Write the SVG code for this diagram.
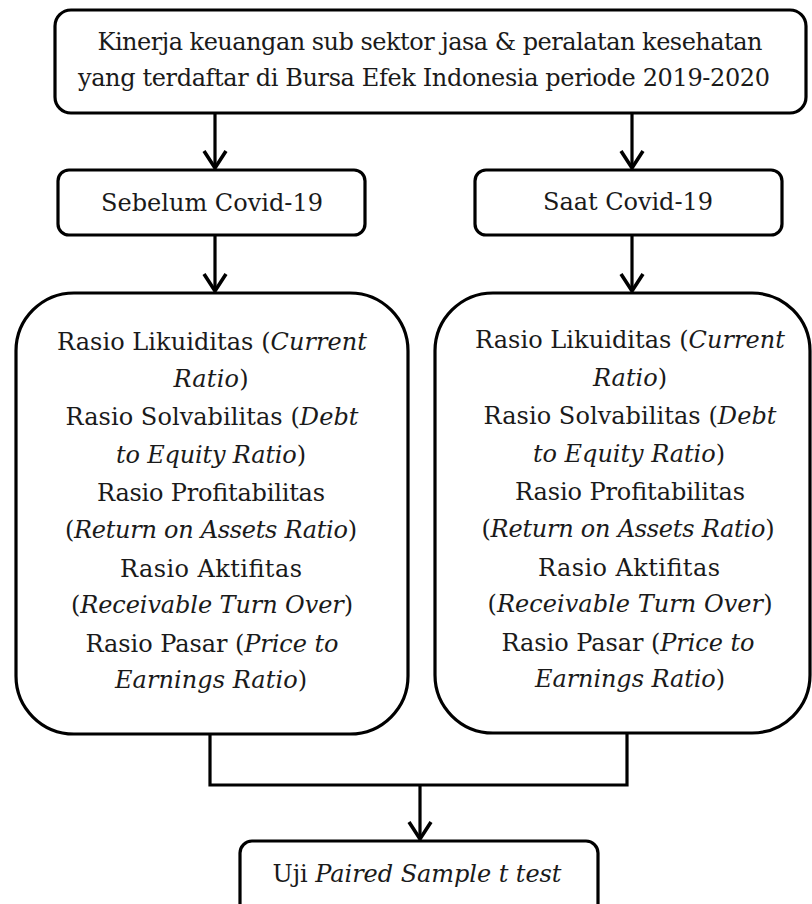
<svg xmlns="http://www.w3.org/2000/svg" width="812" height="904" viewBox="0 0 812 904">
<style>
.box{fill:#fff;stroke:#000;stroke-width:3.2}
.ln{fill:none;stroke:#000;stroke-width:3.2}
.t{font-family:'DejaVu Serif','Liberation Serif',serif;font-size:24px;fill:#1a1a1a;text-anchor:middle}
.i{font-style:italic}
</style>
<defs>
<marker id="arr" markerUnits="userSpaceOnUse" markerWidth="30" markerHeight="30" refX="0" refY="0" orient="auto" overflow="visible">
<path d="M-17,-11 L0,0 L-17,11" fill="none" stroke="#000" stroke-width="3.6" stroke-linejoin="miter"/>
</marker>
</defs>
<rect width="812" height="904" fill="#fff"/>
<g id="connectors">
<line class="ln" x1="215" y1="113" x2="215" y2="168" marker-end="url(#arr)"/>
<line class="ln" x1="632" y1="113" x2="632" y2="168" marker-end="url(#arr)"/>
<line class="ln" x1="215" y1="235" x2="215" y2="291" marker-end="url(#arr)"/>
<line class="ln" x1="632" y1="235" x2="632" y2="291" marker-end="url(#arr)"/>
<path class="ln" d="M210,734 V785 H627 V733"/>
<line class="ln" x1="420" y1="785" x2="420" y2="839" marker-end="url(#arr)"/>
</g>
<g id="node-top">
<rect class="box" x="55" y="10" width="751" height="103" rx="16"/>
<text class="t" x="430" y="50" textLength="665" lengthAdjust="spacing">Kinerja keuangan sub sektor jasa &amp; peralatan kesehatan</text>
<text class="t" x="424" y="86" textLength="692" lengthAdjust="spacing">yang terdaftar di Bursa Efek Indonesia periode 2019-2020</text>
</g>
<g id="node-sebelum">
<rect class="box" x="58" y="170" width="307" height="65" rx="11"/>
<text class="t" x="212" y="211" textLength="222" lengthAdjust="spacing">Sebelum Covid-19</text>
</g>
<g id="node-saat">
<rect class="box" x="475" y="170" width="307" height="65" rx="11"/>
<text class="t" x="628" y="210" textLength="170" lengthAdjust="spacing">Saat Covid-19</text>
</g>
<g id="node-rasio-sebelum">
<rect class="box" x="16" y="293" width="392" height="441" rx="58"/>
<text class="t" x="212" y="350" textLength="310" lengthAdjust="spacing">Rasio Likuiditas (<tspan class="i">Current</tspan></text>
<text class="t" x="211" y="387" textLength="75" lengthAdjust="spacing"><tspan class="i">Ratio</tspan>)</text>
<text class="t" x="212" y="425" textLength="293" lengthAdjust="spacing">Rasio Solvabilitas (<tspan class="i">Debt</tspan></text>
<text class="t" x="211" y="463" textLength="190" lengthAdjust="spacing"><tspan class="i">to Equity Ratio</tspan>)</text>
<text class="t" x="211" y="501" textLength="228" lengthAdjust="spacing">Rasio Profitabilitas</text>
<text class="t" x="211" y="538" textLength="292" lengthAdjust="spacing">(<tspan class="i">Return on Assets Ratio</tspan>)</text>
<text class="t" x="211" y="577" textLength="182" lengthAdjust="spacing">Rasio Aktifitas</text>
<text class="t" x="212" y="613" textLength="282" lengthAdjust="spacing">(<tspan class="i">Receivable Turn Over</tspan>)</text>
<text class="t" x="212" y="652" textLength="253" lengthAdjust="spacing">Rasio Pasar (<tspan class="i">Price to</tspan></text>
<text class="t" x="211" y="688" textLength="192" lengthAdjust="spacing"><tspan class="i">Earnings Ratio</tspan>)</text>
</g>
<g id="node-rasio-saat">
<rect class="box" x="435" y="293" width="375" height="440" rx="58"/>
<text class="t" x="630" y="348" textLength="310" lengthAdjust="spacing">Rasio Likuiditas (<tspan class="i">Current</tspan></text>
<text class="t" x="630" y="386" textLength="74" lengthAdjust="spacing"><tspan class="i">Ratio</tspan>)</text>
<text class="t" x="630" y="424" textLength="293" lengthAdjust="spacing">Rasio Solvabilitas (<tspan class="i">Debt</tspan></text>
<text class="t" x="629" y="462" textLength="192" lengthAdjust="spacing"><tspan class="i">to Equity Ratio</tspan>)</text>
<text class="t" x="630" y="500" textLength="230" lengthAdjust="spacing">Rasio Profitabilitas</text>
<text class="t" x="628" y="537" textLength="293" lengthAdjust="spacing">(<tspan class="i">Return on Assets Ratio</tspan>)</text>
<text class="t" x="629" y="576" textLength="182" lengthAdjust="spacing">Rasio Aktifitas</text>
<text class="t" x="630" y="612" textLength="285" lengthAdjust="spacing">(<tspan class="i">Receivable Turn Over</tspan>)</text>
<text class="t" x="628" y="651" textLength="253" lengthAdjust="spacing">Rasio Pasar (<tspan class="i">Price to</tspan></text>
<text class="t" x="630" y="687" textLength="190" lengthAdjust="spacing"><tspan class="i">Earnings Ratio</tspan>)</text>
</g>
<g id="node-uji">
<rect class="box" x="240" y="841" width="358" height="80" rx="12"/>
<text class="t" x="417" y="882" textLength="289" lengthAdjust="spacing">Uji <tspan class="i">Paired Sample t test</tspan></text>
</g>
</svg>
